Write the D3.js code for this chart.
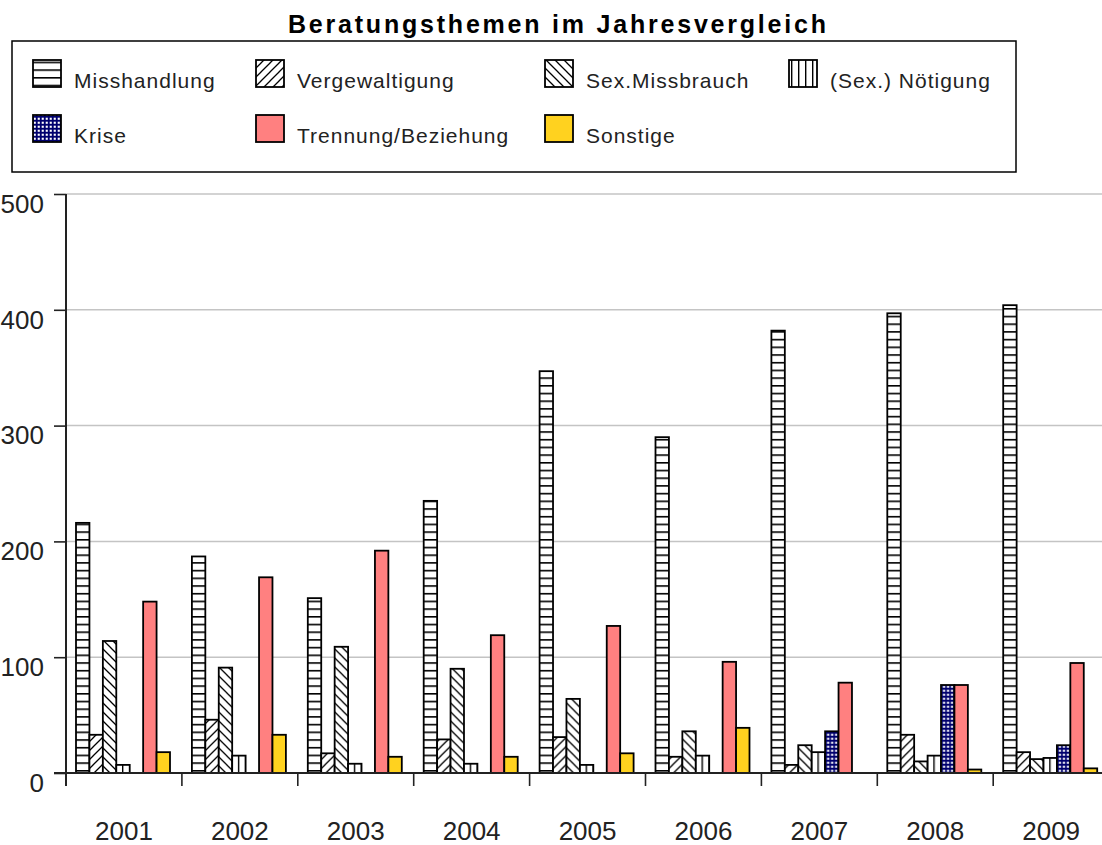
<!DOCTYPE html>
<html>
<head>
<meta charset="utf-8">
<script src="https://cdn.jsdelivr.net/npm/d3@7"></script>
<style>
  body { margin: 0; background: #fff; }
  svg { display: block; }
</style>
</head>
<body>
<svg id="chart" width="1102" height="845"></svg>
<script>
// data
var years = ['2001','2002','2003','2004','2005','2006','2007','2008','2009'];
var seriesNames = ['Misshandlung','Vergewaltigung','Sex.Missbrauch','(Sex.) Nötigung','Krise','Trennung/Beziehung','Sonstige'];
var misshandlung   = [216, 187, 151, 235, 347, 290, 382, 397, 404];
var vergewaltigung = [33, 46, 17, 29, 31, 14, 7, 33, 18];
var sexMissbrauch  = [114, 91, 109, 90, 64, 36, 24, 10, 12];
var noetigung      = [7, 15, 8, 8, 7, 15, 18, 15, 13];
var krise          = [0, 0, 0, 0, 0, 0, 36, 76, 24];
var trennung       = [148, 169, 192, 119, 127, 96, 78, 76, 95];
var sonstige       = [18, 33, 14, 14, 17, 39, 0, 3, 4];
var yTicks = [0, 100, 200, 300, 400, 500];

var seriesValues = [misshandlung, vergewaltigung, sexMissbrauch, noetigung, krise, trennung, sonstige];
var seriesFill = ['url(#p-horiz)','url(#p-fwd)','url(#p-back)','url(#p-vert)','url(#p-grid)','#ff8080','#ffd21f'];

var svg = d3.select('#chart');
var stepW = 115.9;
var x0 = 66;

var x = d3.scaleBand()
          .domain(years)
          .range([x0, x0 + stepW * years.length]);
var xSub = d3.scaleBand()
             .domain(seriesNames)
             .range([10, 104]);
var y = d3.scaleLinear()
          .domain([0, 500])
          .range([773, 194]);

// patterns
var defs = svg.append('defs');

var ph = defs.append('pattern').attr('id','p-horiz').attr('patternUnits','userSpaceOnUse')
             .attr('width', 8).attr('height', 7.7);
ph.append('rect').attr('width', 8).attr('height', 7.7).attr('fill', '#fff');
ph.append('rect').attr('width', 8).attr('height', 1.6).attr('fill', '#000');

var pv = defs.append('pattern').attr('id','p-vert').attr('patternUnits','userSpaceOnUse')
             .attr('width', 7).attr('height', 8);
pv.append('rect').attr('width', 7).attr('height', 8).attr('fill', '#fff');
pv.append('rect').attr('width', 1.4).attr('height', 8).attr('fill', '#000');

var pf = defs.append('pattern').attr('id','p-fwd').attr('patternUnits','userSpaceOnUse')
             .attr('width', 9).attr('height', 9);
pf.append('rect').attr('width', 9).attr('height', 9).attr('fill', '#fff');
pf.append('path').attr('d','M-1,10 L10,-1 M-2,2 L2,-2 M7,11 L11,7')
  .attr('stroke','#000').attr('stroke-width', 1.3);

var pb = defs.append('pattern').attr('id','p-back').attr('patternUnits','userSpaceOnUse')
             .attr('width', 9).attr('height', 9);
pb.append('rect').attr('width', 9).attr('height', 9).attr('fill', '#fff');
pb.append('path').attr('d','M-1,-1 L10,10 M7,-2 L11,2 M-2,7 L2,11')
  .attr('stroke','#000').attr('stroke-width', 1.3);

var pg = defs.append('pattern').attr('id','p-grid').attr('patternUnits','userSpaceOnUse')
             .attr('width', 4).attr('height', 4);
pg.append('rect').attr('width', 4).attr('height', 4).attr('fill', '#00006e');
pg.append('rect').attr('x', 1.7).attr('y', 1.7).attr('width', 2.1).attr('height', 2.1).attr('fill', '#fff');

// title
svg.append('text')
   .attr('x', 288).attr('y', 33)
   .attr('textLength', 538)
   .attr('lengthAdjust', 'spacing')
   .attr('font-family', 'Liberation Sans, Arial, sans-serif')
   .attr('font-size', '25px')
   .attr('font-weight', '700')
   .text('Beratungsthemen im Jahresvergleich');

// legend box
svg.append('rect')
   .attr('x', 12).attr('y', 41).attr('width', 1004).attr('height', 131)
   .attr('fill', '#fff').attr('stroke', '#000').attr('stroke-width', 1.5);

var legendCols = [33, 256, 545, 789];
var legendRows = [60, 115];
var legend = svg.append('g');
seriesNames.forEach(function(name, i) {
  var col = i < 4 ? i : i - 4;
  var row = i < 4 ? 0 : 1;
  var lx = legendCols[col], ly = legendRows[row];
  legend.append('rect')
        .attr('x', lx).attr('y', ly).attr('width', 28).attr('height', 27)
        .attr('fill', seriesFill[i]).attr('stroke', '#000').attr('stroke-width', 1.8);
  legend.append('text')
        .attr('x', lx + 41).attr('y', ly + 28)
        .attr('font-family', 'Liberation Sans, Arial, sans-serif')
        .attr('font-size', '21px')
        .attr('letter-spacing', '1')
        .attr('fill', '#222')
        .text(name);
});

// gridlines
svg.append('g')
   .selectAll('line')
   .data(yTicks.filter(function(d) { return d > 0; }))
   .enter().append('line')
   .attr('x1', x0).attr('x2', 1102)
   .attr('y1', function(d) { return y(d); })
   .attr('y2', function(d) { return y(d); })
   .attr('stroke', '#c4c4c4').attr('stroke-width', 1.5);

// bars
var groups = svg.append('g')
   .selectAll('g')
   .data(years)
   .enter().append('g')
   .attr('transform', function(d) { return 'translate(' + x(d) + ',0)'; });

groups.selectAll('rect')
   .data(function(yr, yi) {
     return seriesNames.map(function(s, si) { return { s: s, si: si, v: seriesValues[si][yi] }; });
   })
   .enter().filter(function(d) { return d.v > 0; })
   .append('rect')
   .attr('x', function(d) { return xSub(d.s); })
   .attr('width', xSub.bandwidth())
   .attr('y', function(d) { return y(d.v); })
   .attr('height', function(d) { return y(0) - y(d.v); })
   .attr('fill', function(d) { return seriesFill[d.si]; })
   .attr('stroke', '#000')
   .attr('stroke-width', 1.8);

// y axis
svg.append('g')
   .attr('transform', 'translate(' + x0 + ',0)')
   .call(d3.axisLeft(y).tickValues(yTicks).tickSize(12).tickPadding(10))
   .call(function(g) { g.select('.domain').remove(); })
   .call(function(g) { g.selectAll('.tick line').attr('stroke', '#222').attr('stroke-width', 1.6); })
   .call(function(g) {
     g.selectAll('.tick text')
      .attr('font-family', 'Liberation Sans, Arial, sans-serif')
      .attr('font-size', '26px')
      .attr('fill', '#222')
      .attr('dy', '0.7em');
   });

svg.append('line')
   .attr('x1', x0).attr('x2', x0)
   .attr('y1', y(500)).attr('y2', 786)
   .attr('stroke', '#222').attr('stroke-width', 2);

// x axis
svg.append('line')
   .attr('x1', 54).attr('x2', 1102)
   .attr('y1', y(0)).attr('y2', y(0))
   .attr('stroke', '#222').attr('stroke-width', 2);

svg.append('g')
   .selectAll('line')
   .data(years)
   .enter().append('line')
   .attr('x1', function(d) { return x(d) + x.bandwidth(); })
   .attr('x2', function(d) { return x(d) + x.bandwidth(); })
   .attr('y1', y(0)).attr('y2', 786)
   .attr('stroke', '#222').attr('stroke-width', 1.6);

svg.append('g')
   .attr('transform', 'translate(0,' + y(0) + ')')
   .call(d3.axisBottom(x).tickSize(0).tickPadding(67))
   .call(function(g) { g.select('.domain').remove(); })
   .call(function(g) {
     g.selectAll('.tick text')
      .attr('font-family', 'Liberation Sans, Arial, sans-serif')
      .attr('font-size', '26px')
      .attr('fill', '#222')
      .attr('dy', '0');
   });
</script>
</body>
</html>
